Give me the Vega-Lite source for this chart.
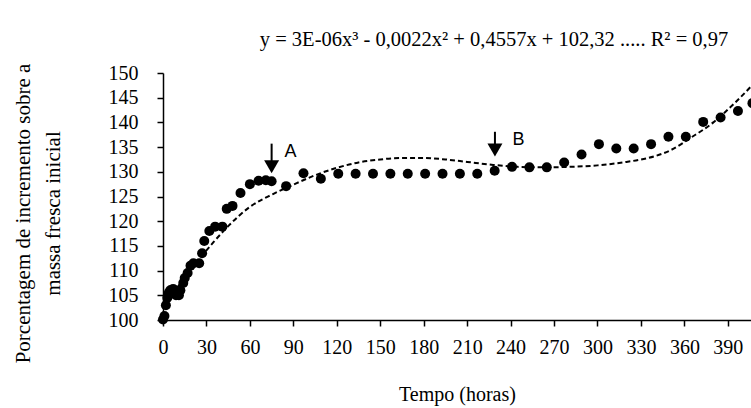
{
  "$schema": "https://vega.github.io/schema/vega-lite/v6.json",
  "width": 588,
  "height": 247,
  "autosize": {"type": "none"},
  "padding": {"left": 163, "top": 73, "right": 0, "bottom": 88},
  "background": "white",
  "config": {"view": {"stroke": null}, "font": "Liberation Serif, Times New Roman, serif"},
  "title": {
    "text": "y = 3E-06x³ - 0,0022x² + 0,4557x + 102,32 ..... R² = 0,97",
    "font": "Liberation Serif, Times New Roman, serif",
    "fontSize": 20.5,
    "fontWeight": "normal",
    "color": "black",
    "anchor": "middle",
    "dx": 37,
    "offset": 10
  },
  "datasets": {
    "obs": [
      {"x": 0, "y": 100.1}, {"x": 1, "y": 100.8}, {"x": 2, "y": 103}, {"x": 3, "y": 104.5},
      {"x": 4, "y": 105.5}, {"x": 5, "y": 106}, {"x": 7, "y": 106.3}, {"x": 9, "y": 105},
      {"x": 11, "y": 105}, {"x": 12, "y": 106}, {"x": 14, "y": 107.5}, {"x": 15, "y": 108.5},
      {"x": 17, "y": 109.5}, {"x": 19, "y": 111}, {"x": 21, "y": 111.5}, {"x": 25, "y": 111.5},
      {"x": 27, "y": 113.5}, {"x": 28.5, "y": 116}, {"x": 32, "y": 118}, {"x": 36, "y": 118.9},
      {"x": 41, "y": 118.9}, {"x": 44, "y": 122.5}, {"x": 48, "y": 123.1}, {"x": 53.5, "y": 125.7},
      {"x": 60, "y": 127.5}, {"x": 66, "y": 128.2}, {"x": 71, "y": 128.3}, {"x": 75, "y": 128.1},
      {"x": 85, "y": 127.1}, {"x": 97, "y": 129.7}, {"x": 109, "y": 128.6}, {"x": 121, "y": 129.6},
      {"x": 133, "y": 129.6}, {"x": 145, "y": 129.6}, {"x": 157, "y": 129.6}, {"x": 169, "y": 129.6},
      {"x": 181, "y": 129.6}, {"x": 193, "y": 129.6}, {"x": 205, "y": 129.6}, {"x": 217, "y": 129.6},
      {"x": 229, "y": 130.2}, {"x": 241, "y": 131}, {"x": 253, "y": 130.9}, {"x": 265, "y": 130.9},
      {"x": 277, "y": 131.9}, {"x": 289, "y": 133.5}, {"x": 301, "y": 135.6}, {"x": 313, "y": 134.7},
      {"x": 325, "y": 134.7}, {"x": 337, "y": 135.6}, {"x": 349, "y": 137.1}, {"x": 361, "y": 137.1},
      {"x": 373, "y": 140.1}, {"x": 385, "y": 141}, {"x": 397, "y": 142.3}, {"x": 407, "y": 143.9}
    ],
    "curve": [
      {"x": 0, "y": 102.3}, {"x": 10, "y": 106.6}, {"x": 20, "y": 110.5}, {"x": 35, "y": 115.8},
      {"x": 45, "y": 119.0}, {"x": 60, "y": 122.9}, {"x": 76, "y": 125.5}, {"x": 90, "y": 127.4},
      {"x": 105, "y": 129.3}, {"x": 120, "y": 130.8}, {"x": 135, "y": 131.9}, {"x": 150, "y": 132.5},
      {"x": 165, "y": 132.8}, {"x": 180, "y": 132.8}, {"x": 195, "y": 132.5}, {"x": 210, "y": 132.0},
      {"x": 228, "y": 131.4}, {"x": 245, "y": 131.0}, {"x": 260, "y": 130.9}, {"x": 280, "y": 131.0},
      {"x": 300, "y": 131.3}, {"x": 320, "y": 132.0}, {"x": 335, "y": 132.8}, {"x": 350, "y": 134.3},
      {"x": 365, "y": 137.0}, {"x": 380, "y": 140.0}, {"x": 395, "y": 144.0}, {"x": 410, "y": 148.5}
    ],
    "arrows": [
      {"x": 75, "y": 135.7, "y2": 131.5},
      {"x": 229.2, "y": 138.1, "y2": 134.8}
    ],
    "heads": [
      {"x": 75, "y": 131.0},
      {"x": 229.2, "y": 134.4}
    ],
    "labels": [
      {"x": 88, "y": 134, "label": "A"},
      {"x": 245.4, "y": 136.5, "label": "B"}
    ]
  },
  "encoding": {
    "x": {
      "field": "x",
      "type": "quantitative",
      "scale": {"domain": [0, 406], "nice": false, "zero": false},
      "axis": {
        "title": "Tempo (horas)",
        "values": [0, 30, 60, 90, 120, 150, 180, 210, 240, 270, 300, 330, 360, 390],
        "grid": false,
        "labelFont": "Liberation Serif, Times New Roman, serif",
        "labelFontSize": 20,
        "labelColor": "black",
        "labelPadding": 11,
        "labelFlush": false,
        "labelOverlap": false,
        "tickSize": 6,
        "tickColor": "black",
        "tickWidth": 1.5,
        "domainColor": "black",
        "domainWidth": 1.5,
        "titleFont": "Liberation Serif, Times New Roman, serif",
        "titleFontSize": 20,
        "titleFontWeight": "normal",
        "titleColor": "black",
        "titleBaseline": "alphabetic",
        "titleY": 80
      }
    },
    "y": {
      "field": "y",
      "type": "quantitative",
      "scale": {"domain": [100, 150], "nice": false, "zero": false},
      "axis": {
        "title": ["Porcentagem de  incremento sobre a", "massa fresca inicial"],
        "values": [100, 105, 110, 115, 120, 125, 130, 135, 140, 145, 150],
        "grid": false,
        "labelFont": "Liberation Serif, Times New Roman, serif",
        "labelFontSize": 20,
        "labelColor": "black",
        "labelPadding": 19,
        "labelOverlap": false,
        "labelFlush": false,
        "tickSize": 6,
        "tickColor": "black",
        "tickWidth": 1.5,
        "domainColor": "black",
        "domainWidth": 1.5,
        "titleFont": "Liberation Serif, Times New Roman, serif",
        "titleFontSize": 21,
        "titleFontWeight": "normal",
        "titleColor": "black",
        "titleAngle": 270,
        "titleAlign": "center",
        "titleBaseline": "alphabetic",
        "titleLineHeight": 30,
        "titleX": -134,
        "titleY": 140
      }
    }
  },
  "layer": [
    {
      "data": {"name": "curve"},
      "mark": {"type": "line", "color": "black", "strokeWidth": 2, "strokeDash": [5, 3], "interpolate": "monotone"}
    },
    {
      "data": {"name": "obs"},
      "mark": {"type": "point", "shape": "circle", "filled": true, "color": "black", "opacity": 1, "size": 100}
    },
    {
      "data": {"name": "arrows"},
      "mark": {"type": "rule", "color": "black", "strokeWidth": 2},
      "encoding": {"y2": {"field": "y2"}}
    },
    {
      "data": {"name": "heads"},
      "mark": {"type": "point", "shape": "triangle-down", "filled": true, "color": "black", "opacity": 1, "size": 225}
    },
    {
      "data": {"name": "labels"},
      "mark": {"type": "text", "font": "Liberation Sans, Arial, sans-serif", "fontSize": 18, "color": "black", "align": "center", "baseline": "middle"},
      "encoding": {"text": {"field": "label"}}
    }
  ]
}
